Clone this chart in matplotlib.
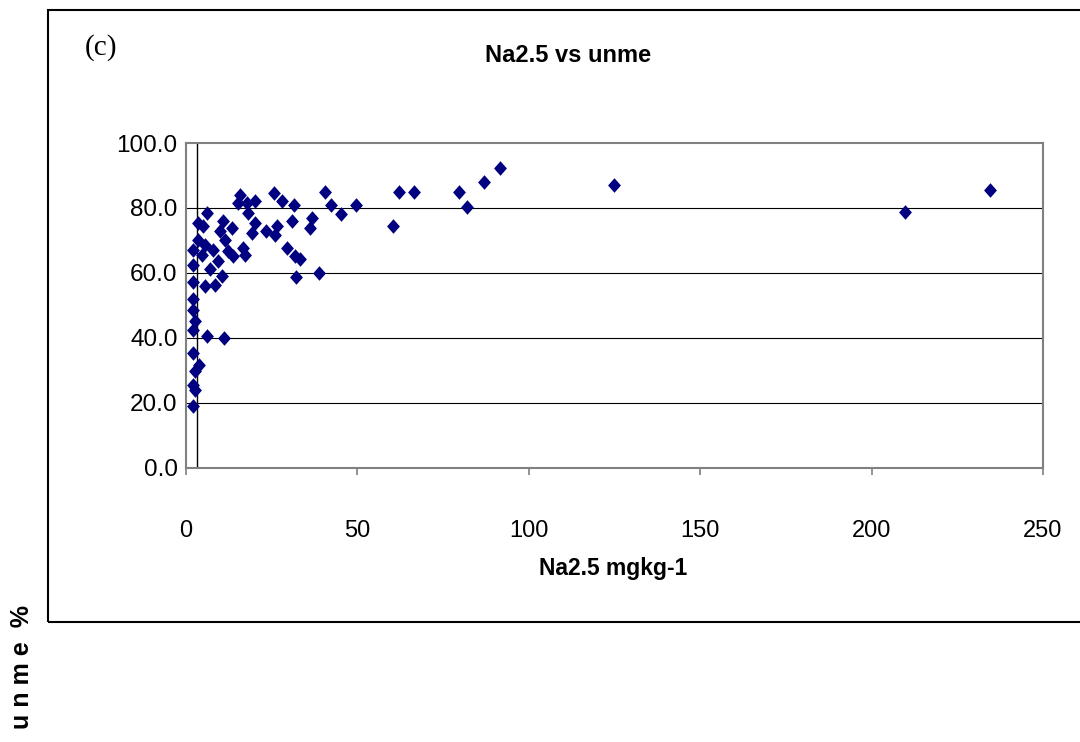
import matplotlib.pyplot as plt
from matplotlib.patches import Rectangle

# Na2.5 (mg/kg) against unme (%)
na25 = [15.75, 15.26, 17.71, 20.13, 18.17, 25.67, 6.04, 3.59, 5.05, 10.88,
        13.33, 9.92, 11.38, 20.13, 23.34, 19.17, 3.59, 5.54, 7.96, 2.13,
        4.58, 12.34, 13.80, 16.72, 17.21, 2.13, 9.42, 7.00, 10.41, 2.13,
        5.54, 8.46, 2.13,
        27.92, 31.59, 40.55, 42.30, 45.22, 49.59, 26.46, 25.96, 31.01, 36.67,
        36.17, 29.38, 31.80, 33.26, 32.09, 38.89,
        2.13, 2.63, 2.13, 6.04, 11.17, 2.13, 3.79, 2.63, 2.13, 2.63, 2.13,
        62.14, 66.60, 60.30, 79.64, 81.89, 87.02, 91.60,
        124.94, 209.74, 234.54]
unme = [84.1, 81.5, 81.5, 82.0, 78.5, 84.7, 78.5, 75.4, 74.3, 75.9,
        73.8, 72.8, 70.2, 75.4, 73.0, 72.3, 70.2, 68.7, 67.1, 67.1,
        65.6, 66.6, 65.1, 67.7, 65.6, 62.5, 63.5, 61.2, 58.9, 57.3,
        55.8, 56.3, 52.0,
        82.0, 81.0, 84.8, 81.0, 78.1, 81.0, 74.5, 71.8, 75.9, 76.9,
        73.8, 67.7, 65.3, 64.4, 58.6, 59.9,
        48.6, 45.0, 42.4, 40.4, 39.9, 35.2, 31.6, 29.6, 25.5, 23.9, 18.8,
        84.9, 84.9, 74.3, 84.9, 80.3, 87.9, 92.3,
        87.2, 78.8, 85.6]

x_ticks = [0, 50, 100, 150, 200, 250]
y_ticks = [0, 20, 40, 60, 80, 100]

plt.rcParams['font.family'] = ['Liberation Sans', 'DejaVu Sans']

fig = plt.figure(figsize=(10.8, 7.42), dpi=100)
ax = fig.add_axes([186 / 1080, 1 - 467.5 / 742, 857 / 1080, 324.5 / 742])

# outer chart frame (right side runs off the page)
fig.add_artist(Rectangle((48 / 1080, 1 - 622 / 742), 1.0, 612 / 742,
                         transform=fig.transFigure, fill=False,
                         edgecolor='black', lw=1.5, clip_on=False))

diamond = [(0, 1), (0.88, 0), (0, -1), (-0.88, 0), (0, 1)]
ax.plot(na25, unme, linestyle='none', marker=diamond, markersize=10.5,
        color='#000080', markeredgewidth=0, zorder=3, clip_on=False)

ax.set_xlim(0, 250)
ax.set_ylim(0, 100)
ax.set_xticks(x_ticks)
ax.set_yticks(y_ticks)
ax.set_yticklabels(['%.1f' % v for v in y_ticks])

for v in y_ticks[1:-1]:
    ax.axhline(v, color='black', lw=0.8, zorder=1)
ax.axvline(3.3, color='black', lw=1.0, zorder=2)

for side in ['left', 'right', 'top', 'bottom']:
    ax.spines[side].set_color('#808080')
    ax.spines[side].set_linewidth(1.5)

ax.tick_params(axis='x', length=5, width=1.2, color='#808080', pad=33,
               labelsize=17)
ax.tick_params(axis='y', length=0, pad=6, labelsize=17.5)

fig.text(568 / 1080, 1 - 55 / 742, 'Na2.5 vs unme', ha='center', va='center',
         fontsize=17, fontweight='bold')
fig.text(613 / 1080, 1 - 568 / 742, 'Na2.5 mgkg-1', ha='center', va='center',
         fontsize=16.5, fontweight='bold')
fig.text(85 / 1080, 1 - 48 / 742, '(c)', ha='left', va='center',
         fontsize=21, family='Liberation Serif')
fig.text(22 / 1080, 1 - 605 / 742, 'u n m e  %', rotation=90, ha='center',
         va='top', fontsize=18, fontweight='bold')

fig.savefig('out.png', dpi=100)
